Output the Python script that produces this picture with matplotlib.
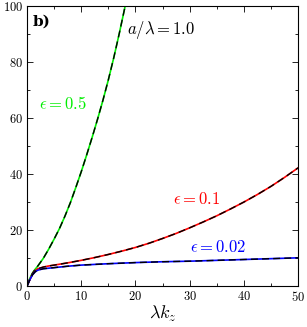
import numpy as np
import matplotlib
matplotlib.use('Agg')
import matplotlib.pyplot as plt
from matplotlib.ticker import MultipleLocator

plt.rcParams['font.family'] = 'serif'
plt.rcParams['font.serif'] = ['cmr10']
plt.rcParams['mathtext.fontset'] = 'cm'
plt.rcParams['axes.formatter.use_mathtext'] = True

# curve eps = 0.5
x_05 = [0, 0.5, 1, 1.5, 2, 3, 4, 5, 6, 7, 8, 9, 10, 11, 12, 13, 14, 15, 16, 17, 18, 18.2]
y_05 = [0, 2.7, 4.6, 6.0, 7.2, 9.9, 13.2, 16.8, 20.6, 25, 29.8, 35.2, 40.8, 46.8, 53, 59.5,
        66.3, 73.6, 81.5, 90, 99, 101]

# curve eps = 0.1
x_01 = [0, 0.5, 1, 1.5, 2, 3, 4, 5, 7.5, 10, 12.5, 15, 17.5, 20, 22.5, 25, 27.5, 30,
        32.5, 35, 37.5, 40, 42.5, 45, 47.5, 50]
y_01 = [0, 2.2, 4.2, 5.5, 6.2, 6.8, 7.2, 7.5, 8.3, 9.2, 10.2, 11.3, 12.5, 13.8, 15.3, 17,
        18.8, 20.8, 22.9, 25.1, 27.5, 30, 32.7, 35.6, 38.8, 42.2]

# curve eps = 0.02
x_002 = [0, 0.5, 1, 1.5, 2, 3, 4, 5, 7.5, 10, 15, 20, 25, 30, 35, 40, 45, 50]
y_002 = [0, 2.2, 4.0, 5.1, 5.7, 6.2, 6.4, 6.6, 7.1, 7.5, 8.0, 8.4, 8.7, 8.9, 9.2, 9.5, 9.8, 10.1]

fig = plt.figure(figsize=(3.07, 3.27), dpi=100)
ax = fig.add_axes([0.088, 0.125, 0.883, 0.857])

for xs, ys, c in [(x_05, y_05, '#00ee00'), (x_01, y_01, '#ff0000'), (x_002, y_002, '#0000ff')]:
    ax.plot(xs, ys, color=c, lw=1.2)
    ax.plot(xs, ys, color='black', lw=1.0, ls=(0, (5, 3)))

ax.set_xlim(0, 50)
ax.set_ylim(0, 100)
ax.xaxis.set_major_locator(MultipleLocator(10))
ax.xaxis.set_minor_locator(MultipleLocator(5))
ax.yaxis.set_major_locator(MultipleLocator(20))
ax.yaxis.set_minor_locator(MultipleLocator(10))
ax.tick_params(which='both', direction='in', top=True, right=True, labelsize=9, pad=3)
ax.tick_params(which='major', length=4, width=0.6)
ax.tick_params(which='minor', length=2, width=0.6)
for s in ax.spines.values():
    s.set_linewidth(0.8)

ax.set_xlabel(r'$\lambda k_z$', fontsize=13, labelpad=0)

ax.text(0.02, 0.97, 'b)', transform=ax.transAxes, fontsize=11, fontweight='bold',
        va='top', ha='left', family='DejaVu Serif')
ax.text(0.37, 0.915, r'$a/\lambda = 1.0$', transform=ax.transAxes, fontsize=12, va='center')
ax.text(2.3, 65, r'$\epsilon = 0.5$', color='#00ee00', fontsize=12, va='center')
ax.text(27, 31, r'$\epsilon = 0.1$', color='#ff0000', fontsize=12, va='center')
ax.text(30, 14, r'$\epsilon = 0.02$', color='#0000ff', fontsize=12, va='center')

fig.savefig('out.png', dpi=100)
